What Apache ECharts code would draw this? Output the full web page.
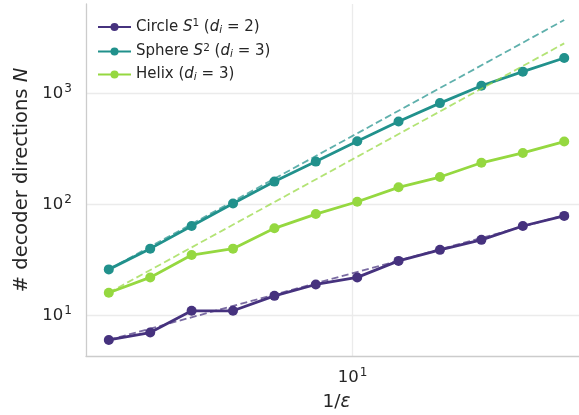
<!DOCTYPE html>
<html>
<head>
<meta charset="utf-8">
<script src="https://cdn.jsdelivr.net/npm/echarts@6/dist/echarts.min.js"></script>
<style>
  html, body { margin: 0; padding: 0; background: #ffffff; }
  #chart { width: 579px; height: 415px; }
</style>
</head>
<body>
<div id="chart"></div>
<script>
// ---- data ----
const invEps = [2.5, 3.164, 4.004, 5.067, 6.412, 8.114, 10.27, 12.99, 16.44, 20.81, 26.34, 33.33];
const circle = [6, 7, 11, 11, 15, 19, 22, 31, 39, 48, 64, 79];
const sphere = [26, 40, 64, 102, 161, 244, 372, 561, 822, 1180, 1581, 2100];
const helix  = [16, 22, 35, 40, 61, 82, 106, 143, 177, 238, 292, 370];
// reference power-law guide lines (endpoints)
const circleRefX = [2.5, 33.33], circleRefY = [6, 80];
const sphereRefX = [2.5, 33.33], sphereRefY = [26, 4622];
const helixRefX  = [2.5, 33.33], helixRefY  = [16, 2844];
const seriesNames = ['Circle', 'Sphere', 'Helix'];
const legendLabels = {
  Circle: 'Circle {i|S}{sup|1} ({i|d}{sub|i} = 2)',
  Sphere: 'Sphere {i|S}{sup|2} ({i|d}{sub|i} = 3)',
  Helix:  'Helix ({i|d}{sub|i} = 3)'
};
const tickExponents = {10: '1', 100: '2', 1000: '3'};

const colors = ['#46327e', '#21918c', '#95d840'];
const FONT = 'DejaVu Sans';
const TXT = '#262626';

function pairs(xs, ys) { return xs.map((x, i) => [x, ys[i]]); }

const chart = echarts.init(document.getElementById('chart'), null, {renderer: 'canvas'});

function solid(name, ys, color) {
  return {
    name: name, type: 'line', data: pairs(invEps, ys),
    symbol: 'circle', symbolSize: 10,
    lineStyle: {color: color, width: 2.8},
    itemStyle: {color: color},
    z: 2, animation: false
  };
}
function dashed(name, xs, ys, color) {
  return {
    name: name + ' ref', type: 'line', data: pairs(xs, ys),
    symbol: 'none',
    lineStyle: {color: color, width: 1.8, type: [7, 3.5], opacity: 0.72},
    z: 3, animation: false, silent: true
  };
}

const tickRich = {
  base: {fontFamily: FONT, fontSize: 16.5, color: TXT},
  sup: {fontFamily: FONT, fontSize: 12, color: TXT, padding: [0, 0, 9, 1]}
};
function tickFmt(v) {
  const key = Math.round(v);
  const e = tickExponents[key];
  return e ? '{base|10}{sup|' + e + '}' : '';
}

const option = {
  backgroundColor: '#ffffff',
  animation: false,
  textStyle: {fontFamily: FONT, color: TXT},
  grid: {left: 86, width: 501, top: 4, height: 352, containLabel: false, outerBoundsMode: 'none'},
  legend: {
    data: seriesNames,
    orient: 'vertical',
    left: 97, top: 18, padding: 0,
    itemWidth: 33, itemHeight: 10, itemGap: 7,
    formatter: function (n) { return legendLabels[n]; },
    textStyle: {
      fontFamily: FONT, fontSize: 15, color: TXT,
      rich: {
        i: {fontFamily: FONT, fontStyle: 'italic', fontSize: 15, color: TXT},
        sup: {fontFamily: FONT, fontSize: 10.5, color: TXT, padding: [0, 0, 7, 0]},
        sub: {fontFamily: FONT, fontStyle: 'italic', fontSize: 10.5, color: TXT, padding: [6, 0, 0, 0]}
      }
    }
  },
  xAxis: {
    type: 'log', logBase: 10, min: 2.196, max: 37.94,
    name: '1/{i|ε}', nameLocation: 'middle', nameGap: 37,
    nameTextStyle: {fontFamily: FONT, fontSize: 18.5, color: TXT,
      rich: {i: {fontFamily: FONT, fontStyle: 'italic', fontSize: 18.5, color: TXT}}},
    axisLine: {show: true, lineStyle: {color: '#cccccc', width: 1.3}},
    axisTick: {show: false},
    minorTick: {show: false},
    axisLabel: {formatter: tickFmt, rich: tickRich, margin: 11, showMinLabel: false, showMaxLabel: false},
    splitLine: {show: true, showMinLine: false, showMaxLine: false, lineStyle: {color: '#ebebeb', width: 1.3}}
  },
  yAxis: {
    type: 'log', logBase: 10, min: 4.30, max: 6444,
    name: '# decoder directions {i|N}', nameLocation: 'middle', nameGap: 54,
    nameTextStyle: {fontFamily: FONT, fontSize: 19.5, color: TXT,
      rich: {i: {fontFamily: FONT, fontStyle: 'italic', fontSize: 19.5, color: TXT}}},
    axisLine: {show: true, lineStyle: {color: '#cccccc', width: 1.3}},
    axisTick: {show: false},
    minorTick: {show: false},
    axisLabel: {formatter: tickFmt, rich: tickRich, margin: 14, showMinLabel: false, showMaxLabel: false},
    splitLine: {show: true, showMinLine: false, showMaxLine: false, lineStyle: {color: '#ebebeb', width: 1.3}}
  },
  series: [
    solid('Circle', circle, colors[0]),
    solid('Sphere', sphere, colors[1]),
    solid('Helix', helix, colors[2]),
    dashed('Circle', circleRefX, circleRefY, colors[0]),
    dashed('Sphere', sphereRefX, sphereRefY, colors[1]),
    dashed('Helix', helixRefX, helixRefY, colors[2])
  ]
};
chart.setOption(option);
</script>
</body>
</html>
